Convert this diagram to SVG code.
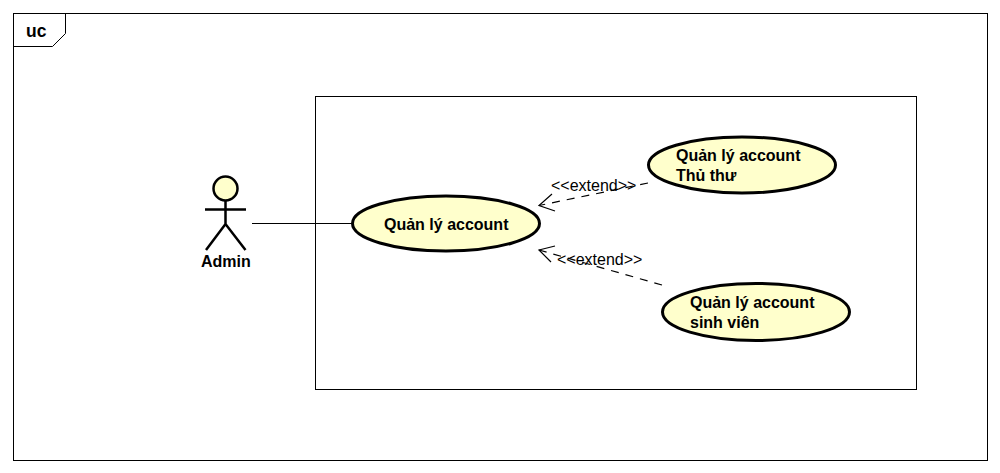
<svg xmlns="http://www.w3.org/2000/svg" width="1000" height="473" viewBox="0 0 1000 473">
<style>
.f{fill:none;stroke:#000;stroke-width:1}
.uc{fill:#ffffcc;stroke:#000;stroke-width:3}
.b{font-family:"Liberation Sans",Arial,sans-serif;font-size:16px;font-weight:bold;fill:#000}
.n{font-family:"Liberation Sans",Arial,sans-serif;font-size:16px;fill:#000}
.c{fill:none;stroke:#000;stroke-width:1.2}
.d{stroke-dasharray:8 7}
.a{stroke-width:2.5;stroke:#000;fill:none}
</style>
<rect width="1000" height="473" fill="#fff"/>
<g id="frame">
<rect class="f" x="13.500" y="13.500" width="974" height="447"/>
<path class="f" d="M13.500 46.500H52.500L65.500 33.500V13.500"/>
<text class="b" x="26" y="37" style="font-size:17.500px">uc</text>
</g>
<g id="system"><rect class="f" x="315.500" y="96.500" width="601" height="293"/></g>
<g id="connectors">
<path class="c" d="M252 223.500H352"/>
<path class="c d" d="M648 183L539 205.500"/>
<path class="c" d="M552 194L539 205.500L555 211"/>
<path class="c d" d="M662 285L539 250"/>
<path class="c" d="M555 246L539 250L551 262"/>
<text class="n" x="551" y="191">&lt;&lt;extend&gt;&gt;</text>
<text class="n" x="557" y="265">&lt;&lt;extend&gt;&gt;</text>
</g>
<g id="admin">
<circle cx="225.500" cy="188.500" r="12" fill="#ffffcc" stroke="#000" stroke-width="2.500"/>
<path class="a" d="M225.500 201V224M205 209.500H246M206 250L225.500 224L245.500 250"/>
<text class="b" x="201" y="267">Admin</text>
</g>
<g id="uc-main">
<ellipse class="uc" cx="446" cy="223.500" rx="93.500" ry="27.500"/>
<text class="b" x="384" y="230">Quản lý account</text>
</g>
<g id="uc-thuthu">
<ellipse class="uc" cx="742" cy="165" rx="93.500" ry="28"/>
<text class="b" x="676" y="161">Quản lý account</text>
<text class="b" x="676" y="181">Thủ thư</text>
</g>
<g id="uc-sinhvien">
<ellipse class="uc" cx="756" cy="312" rx="93.500" ry="28.500"/>
<text class="b" x="690" y="308">Quản lý account</text>
<text class="b" x="690" y="328">sinh viên</text>
</g>
</svg>
